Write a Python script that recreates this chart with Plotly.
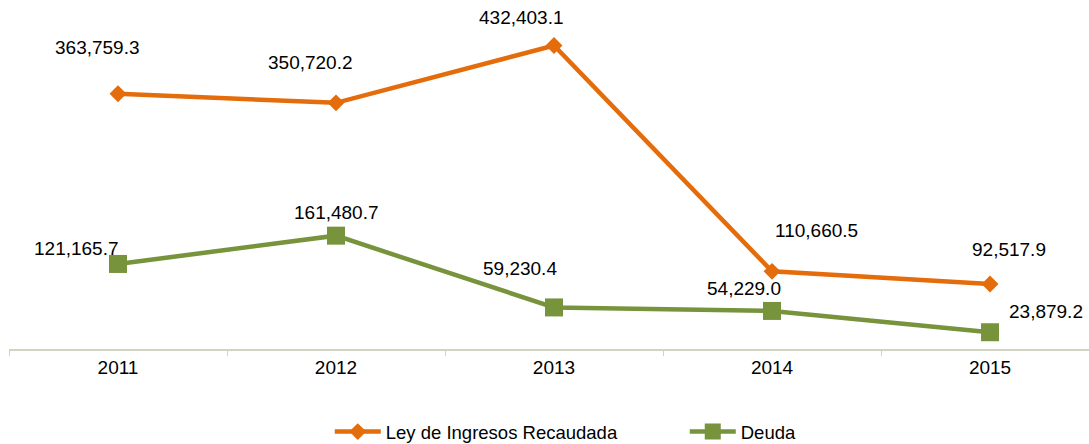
import plotly.graph_objects as go

years = ["2011", "2012", "2013", "2014", "2015"]
ley_ingresos = [363759.3, 350720.2, 432403.1, 110660.5, 92517.9]
deuda = [121165.7, 161480.7, 59230.4, 54229.0, 23879.2]
series_names = ["Ley de Ingresos Recaudada", "Deuda"]

ORANGE = "#E46C0A"
GREEN = "#77933C"
AXIS = "#D3D3C3"
FONT = "Liberation Sans, Arial, sans-serif"
FS = 18.5
FS_LAB = 19

fig = go.Figure()
fig.add_trace(go.Scatter(
    x=years, y=ley_ingresos, name=series_names[0], mode="lines+markers",
    line=dict(color=ORANGE, width=4.5),
    marker=dict(symbol="diamond", size=13, color=ORANGE),
))
fig.add_trace(go.Scatter(
    x=years, y=deuda, name=series_names[1], mode="lines+markers",
    line=dict(color=GREEN, width=4.5),
    marker=dict(symbol="square", size=18, color=GREEN),
))

# label pixel offsets (dx, dy) relative to each point
off_ley = [(-21, 46), (-26, 40), (-33, 28), (44, 41), (19, 35)]
off_deuda = [(-42, 15), (0, 23), (-34, 39), (-28, 22), (56, 21)]

for vals, offs in ((ley_ingresos, off_ley), (deuda, off_deuda)):
    for i, (v, (dx, dy)) in enumerate(zip(vals, offs)):
        fig.add_annotation(
            x=i, y=v, xref="x", yref="y", text=f"{v:,.1f}",
            showarrow=False, xshift=dx, yshift=dy,
            font=dict(family=FONT, size=FS_LAB, color="#000000"),
        )

fig.update_layout(
    width=1089, height=444,
    margin=dict(l=9, r=0, t=10, b=95, autoexpand=False),
    paper_bgcolor="white", plot_bgcolor="white",
    font=dict(family=FONT, size=FS, color="#000000"),
    showlegend=True,
    legend=dict(
        orientation="h", x=0.297, xanchor="left", y=-0.245, yanchor="middle",
        font=dict(family=FONT, size=FS, color="#000000"),
        itemwidth=46, entrywidth=294, entrywidthmode="pixels",
        bgcolor="rgba(0,0,0,0)",
    ),
    xaxis=dict(
        type="category", range=[-0.5, 4.454],
        showline=True, linecolor=AXIS, linewidth=1.5,
        ticks="outside", tickson="boundaries", ticklen=5, tickcolor=AXIS, tickwidth=1,
        showgrid=False, zeroline=False,
        tickfont=dict(family=FONT, size=FS_LAB, color="#000000"),
    ),
    yaxis=dict(
        range=[0, 483000], visible=False, showgrid=False, zeroline=False,
    ),
)

fig.write_html(
    "out.html",
    config={"displayModeBar": False},
    post_script="document.body.style.margin='0';document.body.style.overflow='hidden';",
)
